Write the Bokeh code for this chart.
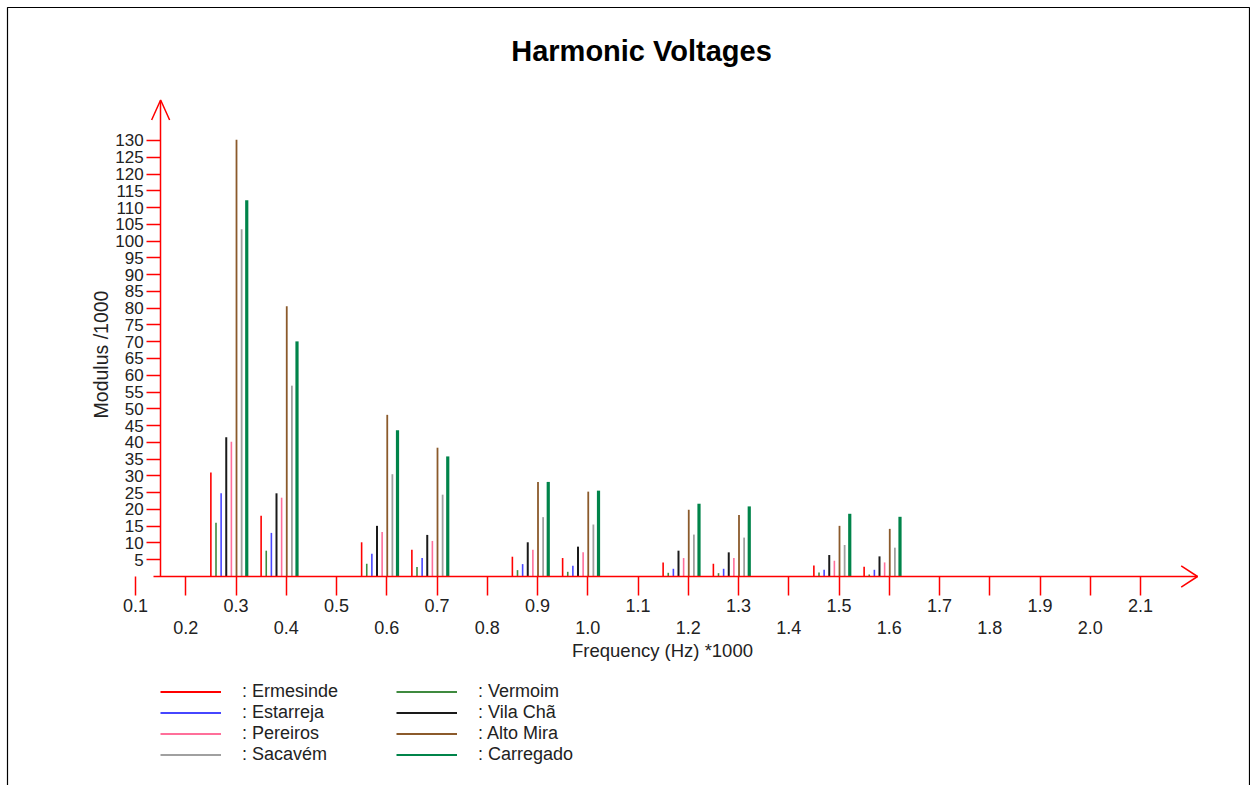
import math
from bokeh.plotting import figure
from bokeh.models import (Range1d, LinearAxis, FixedTicker, Label, Legend, LegendItem,
                          ColumnDataSource, NumeralTickFormatter)
from bokeh.embed import file_html
from bokeh.resources import INLINE

# ---------------- data ----------------
harmonics = [0.25, 0.35, 0.55, 0.65, 0.85, 0.95, 1.15, 1.25, 1.45, 1.55]   # kHz
ermesinde = [31.0, 18.1, 10.2, 8.0, 5.9, 5.5, 4.2, 3.8, 3.3, 2.9]
vermoim   = [16.0, 7.7, 3.8, 2.8, 1.9, 1.4, 1.1, 1.0, 1.2, 0.6]
estarreja = [24.8, 13.0, 6.8, 5.5, 3.7, 3.2, 2.3, 2.3, 2.0, 2.0]
vila_cha  = [41.5, 24.8, 15.1, 12.4, 10.2, 8.9, 7.7, 7.2, 6.4, 6.0]
pereiros  = [40.2, 23.5, 13.3, 10.6, 8.0, 7.2, 5.5, 5.5, 4.7, 4.2]
alto_mira = [130.2, 80.6, 48.2, 38.4, 28.2, 25.3, 19.9, 18.3, 15.1, 14.2]
sacavem   = [103.5, 56.9, 30.5, 24.4, 17.7, 15.5, 12.5, 11.6, 9.4, 8.6]
carregado = [112.2, 70.1, 43.6, 35.8, 28.2, 25.6, 21.7, 20.9, 18.7, 17.8]

series_names = ["Ermesinde", "Vermoim", "Estarreja", "Vila Chã",
                "Pereiros", "Alto Mira", "Sacavém", "Carregado"]
series_values = [ermesinde, vermoim, estarreja, vila_cha,
                 pereiros, alto_mira, sacavem, carregado]
series_colors = ["#ff0000", "#3f8a3f", "#4646ff", "#1a1a1a",
                 "#ff6f9a", "#8b5a2b", "#a0a0a0", "#00844a"]
series_widths = [1.6, 1.6, 1.6, 2.0, 1.6, 1.8, 1.8, 3.2]
legend_widths = [1.8, 1.8, 1.8, 1.8, 1.8, 1.8, 1.8, 2.2]

odd_ticks = [0.1, 0.3, 0.5, 0.7, 0.9, 1.1, 1.3, 1.5, 1.7, 1.9, 2.1]
even_ticks = [0.2, 0.4, 0.6, 0.8, 1.0, 1.2, 1.4, 1.6, 1.8, 2.0]
y_ticks = list(range(5, 131, 5))

# ---------------- geometry ----------------
W, H = 1250, 785
PX_X = 502.5          # px per kHz
PX_Y = 3.354          # px per unit of modulus
X0_PX = 135           # px position of 0.1 kHz
Y0_PX = 576           # px position of modulus 0
BAR_STEP = 0.0102

def X(px):
    return 0.1 + (px - X0_PX) / PX_X

def Y(py):
    return (Y0_PX - py) / PX_Y

FONT = "Liberation Sans"
TXT = "#222222"

p = figure(width=W, height=H, x_axis_type=None, y_axis_type=None,
           x_range=Range1d(X(0), X(W)), y_range=Range1d(Y(H), Y(0)),
           toolbar_location=None, output_backend="svg",
           min_border_left=0, min_border_right=0, min_border_top=0, min_border_bottom=0)
p.outline_line_color = None
p.grid.visible = False
p.background_fill_color = "white"
p.border_fill_color = "white"

y_axis_x = 0.15
y_axis_top = Y(99.5)
x_line_start = X(153)
x_line_end = X(1197)

# ---------------- axes ----------------
yaxis = LinearAxis(fixed_location=y_axis_x, ticker=FixedTicker(ticks=y_ticks),
                   bounds=(0, y_axis_top))
yaxis.axis_line_color = "red"
yaxis.axis_line_width = 1.5
yaxis.major_tick_line_color = "red"
yaxis.major_tick_line_width = 1.5
yaxis.major_tick_in = 0
yaxis.major_tick_out = 14
yaxis.minor_tick_line_color = None
yaxis.major_label_standoff = 3
yaxis.major_label_text_font = FONT
yaxis.major_label_text_font_size = "17px"
yaxis.major_label_text_color = TXT
p.add_layout(yaxis, "left")

def make_xaxis(ticks, standoff, line, bounds):
    ax = LinearAxis(fixed_location=0, ticker=FixedTicker(ticks=ticks),
                    formatter=NumeralTickFormatter(format="0.0"), bounds=bounds)
    ax.axis_line_color = "red" if line else None
    ax.axis_line_width = 1.5
    ax.major_tick_line_color = "red"
    ax.major_tick_line_width = 1.5
    ax.major_tick_in = 0
    ax.major_tick_out = 19
    ax.minor_tick_line_color = None
    ax.major_label_standoff = standoff
    ax.major_label_text_font = FONT
    ax.major_label_text_font_size = "18px"
    ax.major_label_text_color = TXT
    return ax

p.add_layout(make_xaxis(odd_ticks, 3, False, "auto"), "below")
p.add_layout(make_xaxis(even_ticks, 25, True, (x_line_start, x_line_end)), "below")

# arrow heads
p.line([x_line_end - 16.3 / PX_X, x_line_end, x_line_end - 16.3 / PX_X],
       [10.7 / PX_Y, 0, -10.7 / PX_Y], line_color="red", line_width=1.5)
p.line([y_axis_x - 9 / PX_X, y_axis_x, y_axis_x + 9 / PX_X],
       [y_axis_top - 20 / PX_Y, y_axis_top, y_axis_top - 20 / PX_Y],
       line_color="red", line_width=1.5)

# outer frame of the picture
p.line([X(7), X(7), X(1249), X(1249)], [Y(H + 5), Y(7), Y(7), Y(H + 5)],
       line_color="black", line_width=1.2)

# ---------------- bars ----------------
legend_renderers = {}
for i, (name, vals, col, w, lw) in enumerate(zip(series_names, series_values,
                                                 series_colors, series_widths, legend_widths)):
    xs = [h + i * BAR_STEP for h in harmonics]
    src = ColumnDataSource(dict(x=xs, y0=[0] * len(vals), v=vals))
    p.segment(x0="x", y0="y0", x1="x", y1="v", source=src,
              line_color=col, line_width=w)
    # legend key: a one-point line (draws nothing on the plot, thinner key line)
    legend_renderers[name] = p.line(x=xs[:1], y=[0], line_color=col, line_width=lw)

# ---------------- legends ----------------
def make_legend(names, loc):
    lg = Legend(items=[LegendItem(label=": " + n, renderers=[legend_renderers[n]]) for n in names],
                location=loc, orientation="vertical")
    lg.glyph_width = 61
    lg.glyph_height = 21
    lg.label_height = 21
    lg.label_standoff = 21
    lg.spacing = 0
    lg.padding = 0
    lg.margin = 0
    lg.border_line_color = None
    lg.background_fill_alpha = 0
    lg.label_text_font = FONT
    lg.label_text_font_size = "18px"
    lg.label_text_color = TXT
    return lg

legend_bottom = H - 764.5
p.add_layout(make_legend(["Ermesinde", "Estarreja", "Pereiros", "Sacavém"], (160, legend_bottom)))
p.add_layout(make_legend(["Vermoim", "Vila Chã", "Alto Mira", "Carregado"], (396, legend_bottom)))

# ---------------- texts ----------------
p.add_layout(Label(x=X(641), y=Y(50),
                   text="Harmonic Voltages", text_align="center", text_baseline="middle",
                   text_font=FONT, text_font_size="29px", text_font_style="bold",
                   text_color="black"))
p.add_layout(Label(x=X(662), y=Y(650),
                   text="Frequency (Hz) *1000", text_align="center", text_baseline="middle",
                   text_font=FONT, text_font_size="18.5px", text_color=TXT))
p.add_layout(Label(x=X(100), y=Y(354),
                   text="Modulus /1000", text_align="center", text_baseline="middle",
                   angle=math.pi / 2, text_font=FONT, text_font_size="19.5px", text_color=TXT))

open("out.html", "w").write(file_html(p, INLINE))
